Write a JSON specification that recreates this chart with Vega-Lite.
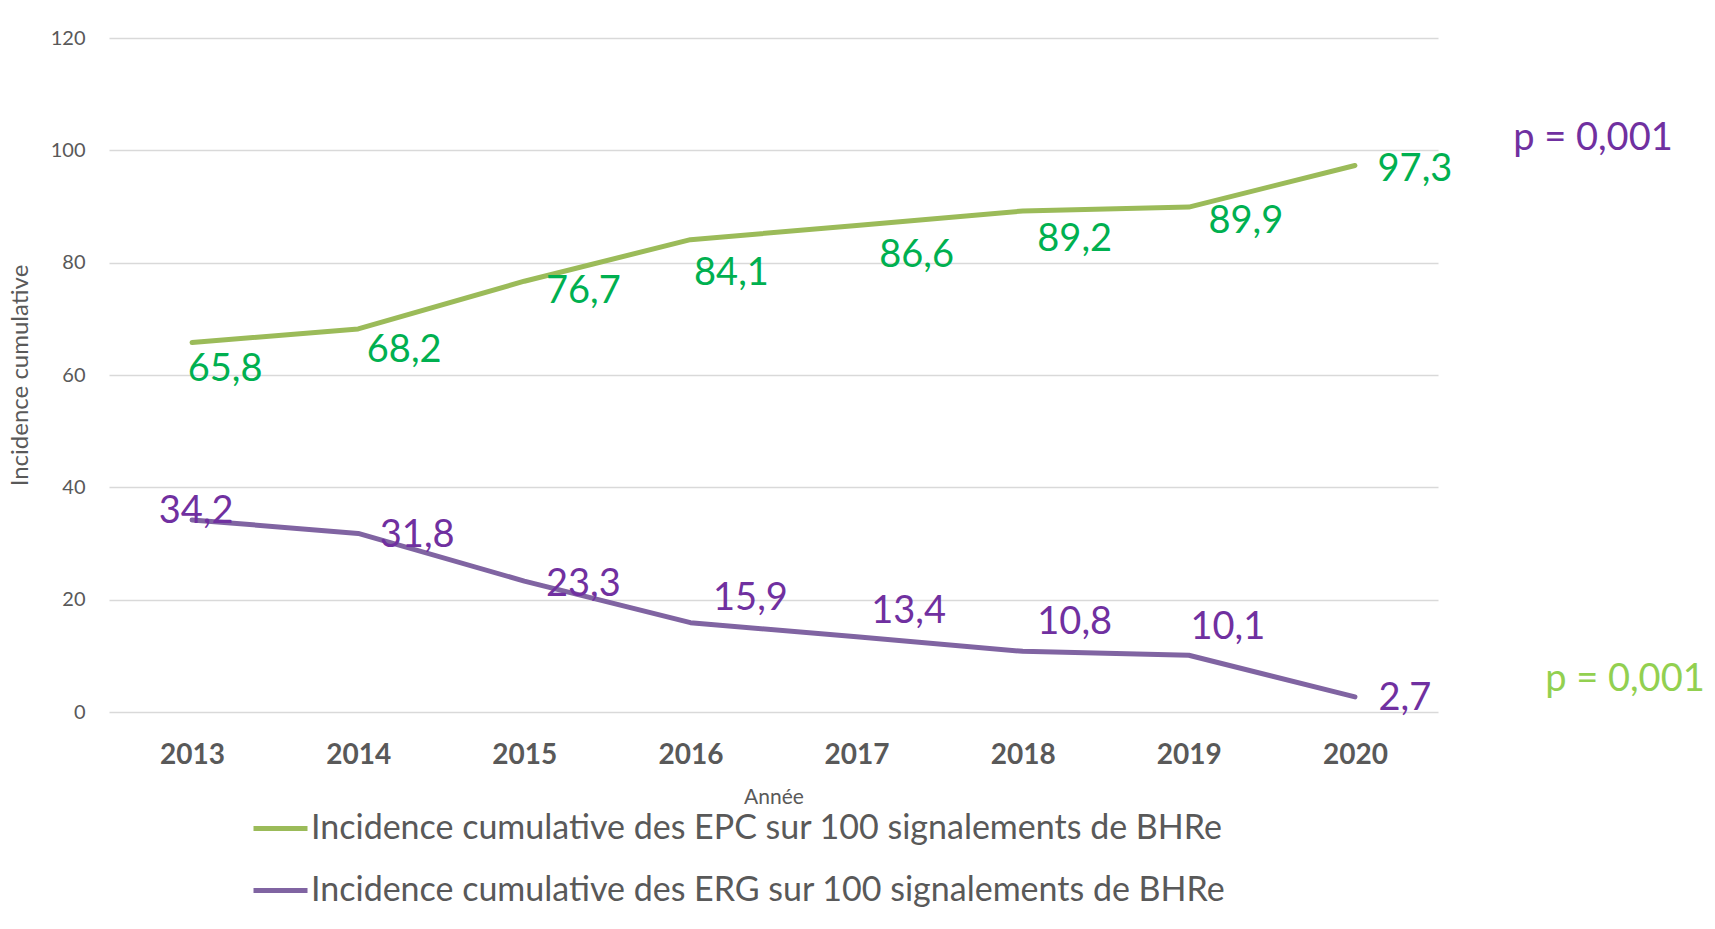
{
  "$schema": "https://vega.github.io/schema/vega-lite/v6.json",
  "width": 1329,
  "height": 674,
  "autosize": {"type": "none"},
  "padding": {"left": 109, "top": 38, "right": 277, "bottom": 217},
  "background": "white",
  "config": {
    "font": "Lato",
    "view": {"stroke": null},
    "locale": {"number": {"decimal": ",", "thousands": " ", "grouping": [3], "currency": ["", " €"]}},
    "text": {"font": "Lato", "fontSize": 38, "baseline": "alphabetic", "align": "center"}
  },
  "data": {
    "values": [
      {"year": "2013", "k": "EPC", "serie": "Incidence cumulative des EPC sur 100 signalements de BHRe", "value": 65.8},
      {"year": "2014", "k": "EPC", "serie": "Incidence cumulative des EPC sur 100 signalements de BHRe", "value": 68.2},
      {"year": "2015", "k": "EPC", "serie": "Incidence cumulative des EPC sur 100 signalements de BHRe", "value": 76.7},
      {"year": "2016", "k": "EPC", "serie": "Incidence cumulative des EPC sur 100 signalements de BHRe", "value": 84.1},
      {"year": "2017", "k": "EPC", "serie": "Incidence cumulative des EPC sur 100 signalements de BHRe", "value": 86.6},
      {"year": "2018", "k": "EPC", "serie": "Incidence cumulative des EPC sur 100 signalements de BHRe", "value": 89.2},
      {"year": "2019", "k": "EPC", "serie": "Incidence cumulative des EPC sur 100 signalements de BHRe", "value": 89.9},
      {"year": "2020", "k": "EPC", "serie": "Incidence cumulative des EPC sur 100 signalements de BHRe", "value": 97.3},
      {"year": "2013", "k": "ERG", "serie": "Incidence cumulative des ERG sur 100 signalements de BHRe", "value": 34.2},
      {"year": "2014", "k": "ERG", "serie": "Incidence cumulative des ERG sur 100 signalements de BHRe", "value": 31.8},
      {"year": "2015", "k": "ERG", "serie": "Incidence cumulative des ERG sur 100 signalements de BHRe", "value": 23.3},
      {"year": "2016", "k": "ERG", "serie": "Incidence cumulative des ERG sur 100 signalements de BHRe", "value": 15.9},
      {"year": "2017", "k": "ERG", "serie": "Incidence cumulative des ERG sur 100 signalements de BHRe", "value": 13.4},
      {"year": "2018", "k": "ERG", "serie": "Incidence cumulative des ERG sur 100 signalements de BHRe", "value": 10.8},
      {"year": "2019", "k": "ERG", "serie": "Incidence cumulative des ERG sur 100 signalements de BHRe", "value": 10.1},
      {"year": "2020", "k": "ERG", "serie": "Incidence cumulative des ERG sur 100 signalements de BHRe", "value": 2.7}
    ]
  },
  "encoding": {
    "x": {
      "field": "year", "type": "ordinal",
      "scale": {"type": "point", "padding": 0.5},
      "axis": {
        "title": "Année", "titleFont": "Lato", "titleFontSize": 21, "titleFontWeight": "normal", "titleColor": "#595959", "titlePadding": 17,
        "labelFont": "Lato", "labelFontSize": 28, "labelFontWeight": "bold", "labelColor": "#595959", "labelPadding": 29, "labelAngle": 0,
        "ticks": false, "domain": false, "grid": false
      }
    },
    "y": {
      "field": "value", "type": "quantitative",
      "scale": {"domain": [0, 120]},
      "axis": {
        "title": "Incidence cumulative", "titleFont": "Lato", "titleFontSize": 24, "titleFontWeight": "normal", "titleColor": "#595959", "titlePadding": 18,
        "values": [0, 20, 40, 60, 80, 100, 120],
        "labelFont": "Lato", "labelFontSize": 20, "labelColor": "#595959", "labelPadding": 24,
        "ticks": false, "domain": false, "gridColor": "#D9D9D9", "gridWidth": 1.5
      }
    }
  },
  "layer": [
    {
      "mark": {"type": "line", "strokeWidth": 5, "strokeCap": "round", "strokeJoin": "round"},
      "encoding": {
        "color": {
          "field": "serie", "type": "nominal",
          "scale": {"domain": ["Incidence cumulative des EPC sur 100 signalements de BHRe", "Incidence cumulative des ERG sur 100 signalements de BHRe"], "range": ["#9BBB59", "#8064A2"]},
          "legend": {
            "title": null, "orient": "none", "legendX": 142, "legendY": 761, "direction": "vertical", "padding": 0,
            "symbolType": "stroke", "symbolSize": 2916, "symbolStrokeWidth": 5,
            "labelFont": "Lato", "labelFontSize": 34, "labelColor": "#595959", "labelLimit": 2000, "labelOffset": 1, "rowPadding": 15
          }
        }
      }
    },
    {"transform": [{"filter": "datum.k == 'EPC' && datum.year == '2013'"}], "mark": {"type": "text", "dx": 33, "dy": 39, "color": "#00B050"}, "encoding": {"text": {"field": "value", "type": "quantitative", "format": ".1f"}}},
    {"transform": [{"filter": "datum.k == 'EPC' && datum.year == '2014'"}], "mark": {"type": "text", "dx": 46, "dy": 33, "color": "#00B050"}, "encoding": {"text": {"field": "value", "type": "quantitative", "format": ".1f"}}},
    {"transform": [{"filter": "datum.k == 'EPC' && datum.year == '2015'"}], "mark": {"type": "text", "dx": 59, "dy": 22, "color": "#00B050"}, "encoding": {"text": {"field": "value", "type": "quantitative", "format": ".1f"}}},
    {"transform": [{"filter": "datum.k == 'EPC' && datum.year == '2016'"}], "mark": {"type": "text", "dx": 41, "dy": 45, "color": "#00B050"}, "encoding": {"text": {"field": "value", "type": "quantitative", "format": ".1f"}}},
    {"transform": [{"filter": "datum.k == 'EPC' && datum.year == '2017'"}], "mark": {"type": "text", "dx": 60, "dy": 41, "color": "#00B050"}, "encoding": {"text": {"field": "value", "type": "quantitative", "format": ".1f"}}},
    {"transform": [{"filter": "datum.k == 'EPC' && datum.year == '2018'"}], "mark": {"type": "text", "dx": 52, "dy": 40, "color": "#00B050"}, "encoding": {"text": {"field": "value", "type": "quantitative", "format": ".1f"}}},
    {"transform": [{"filter": "datum.k == 'EPC' && datum.year == '2019'"}], "mark": {"type": "text", "dx": 57, "dy": 26, "color": "#00B050"}, "encoding": {"text": {"field": "value", "type": "quantitative", "format": ".1f"}}},
    {"transform": [{"filter": "datum.k == 'EPC' && datum.year == '2020'"}], "mark": {"type": "text", "dx": 60, "dy": 16, "color": "#00B050"}, "encoding": {"text": {"field": "value", "type": "quantitative", "format": ".1f"}}},
    {"transform": [{"filter": "datum.k == 'ERG' && datum.year == '2013'"}], "mark": {"type": "text", "dx": 4, "dy": 3, "color": "#7030A0"}, "encoding": {"text": {"field": "value", "type": "quantitative", "format": ".1f"}}},
    {"transform": [{"filter": "datum.k == 'ERG' && datum.year == '2014'"}], "mark": {"type": "text", "dx": 59, "dy": 14, "color": "#7030A0"}, "encoding": {"text": {"field": "value", "type": "quantitative", "format": ".1f"}}},
    {"transform": [{"filter": "datum.k == 'ERG' && datum.year == '2015'"}], "mark": {"type": "text", "dx": 59, "dy": 15, "color": "#7030A0"}, "encoding": {"text": {"field": "value", "type": "quantitative", "format": ".1f"}}},
    {"transform": [{"filter": "datum.k == 'ERG' && datum.year == '2016'"}], "mark": {"type": "text", "dx": 60, "dy": -13, "color": "#7030A0"}, "encoding": {"text": {"field": "value", "type": "quantitative", "format": ".1f"}}},
    {"transform": [{"filter": "datum.k == 'ERG' && datum.year == '2017'"}], "mark": {"type": "text", "dx": 52, "dy": -14, "color": "#7030A0"}, "encoding": {"text": {"field": "value", "type": "quantitative", "format": ".1f"}}},
    {"transform": [{"filter": "datum.k == 'ERG' && datum.year == '2018'"}], "mark": {"type": "text", "dx": 52, "dy": -17, "color": "#7030A0"}, "encoding": {"text": {"field": "value", "type": "quantitative", "format": ".1f"}}},
    {"transform": [{"filter": "datum.k == 'ERG' && datum.year == '2019'"}], "mark": {"type": "text", "dx": 39, "dy": -16, "color": "#7030A0"}, "encoding": {"text": {"field": "value", "type": "quantitative", "format": ".1f"}}},
    {"transform": [{"filter": "datum.k == 'ERG' && datum.year == '2020'"}], "mark": {"type": "text", "dx": 50, "dy": 13, "color": "#7030A0"}, "encoding": {"text": {"field": "value", "type": "quantitative", "format": ".1f"}}},
    {
      "transform": [{"filter": "datum.k == 'ERG' && datum.year == '2020'"}],
      "mark": {"type": "text", "text": "p = 0,001", "color": "#7030A0", "dx": 238, "fontSize": 38},
      "encoding": {"x": {"datum": "2020"}, "y": {"datum": 100.0}}
    },
    {
      "transform": [{"filter": "datum.k == 'EPC' && datum.year == '2020'"}],
      "mark": {"type": "text", "text": "p = 0,001", "color": "#92D050", "dx": 270, "fontSize": 38},
      "encoding": {"x": {"datum": "2020"}, "y": {"datum": 3.8}}
    }
  ]
}
